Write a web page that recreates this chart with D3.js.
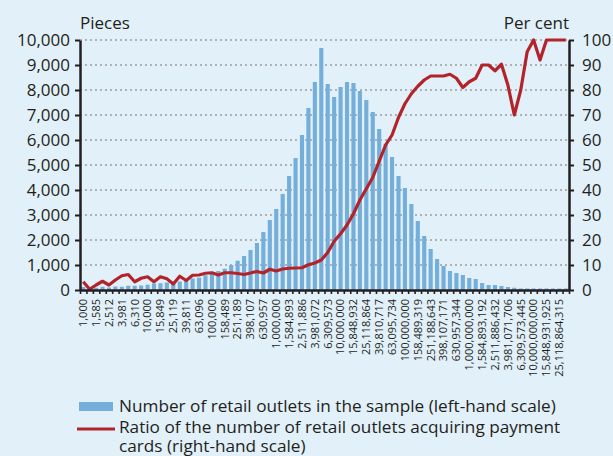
<!DOCTYPE html>
<html><head><meta charset="utf-8">
<script src="https://cdn.jsdelivr.net/npm/d3@7"></script>
<style>
html,body{margin:0;padding:0;background:#e2f0f9;}
text{font-family:"Open Sans",sans-serif;fill:#231f20;}
</style></head>
<body>
<svg id="chart" width="613" height="456"></svg>
<script>
// Size classes of retail outlets (annual turnover, HUF), log-spaced, 10 per decade
const categories = d3.range(76);
const tickLabels = ["1,000","1,585","2,512","3,981","6,310","10,000","15,849","25,119","39,811","63,096",
  "100,000","158,489","251,189","398,107","630,957","1,000,000","1,584,893","2,511,886","3,981,072","6,309,573",
  "10,000,000","15,848,932","25,118,864","39,810,717","63,095,734","100,000,000","158,489,319","251,188,643","398,107,171","630,957,344",
  "1,000,000,000","1,584,893,192","2,511,886,432","3,981,071,706","6,309,573,445","10,000,000,000","15,848,931,925","25,118,864,315"];
// Number of retail outlets in the sample (pieces, left-hand scale)
const outlets = [120,60,90,130,100,140,130,170,170,180,
  210,260,270,300,330,340,380,460,490,590,
  640,760,850,1000,1170,1360,1600,1880,2320,2800,
  3240,3840,4560,5280,6200,7280,8320,9680,8240,7720,
  8120,8320,8280,7960,7600,7120,6440,5850,5320,4560,
  4080,3440,2760,2160,1640,1240,960,760,680,600,
  480,440,280,200,200,160,120,90,60,60,
  60,60,60,60,60,60];
// Ratio of outlets acquiring payment cards (per cent, right-hand scale)
const ratio = [3.3,0.3,2,3.5,2,4,5.7,6.2,3.3,4.7,
  5.3,3.3,5.3,4.5,2.4,5.5,3.8,5.9,6,6.7,
  6.9,6,6.9,6.9,6.6,6.2,6.8,7.4,6.8,8.3,
  7.6,8.4,8.7,8.8,8.9,10.1,10.8,12,15,19.5,
  22.5,26,30.5,36,40.5,45,51.5,58,62,69,
  74.5,78.5,81.5,84,85.6,85.6,85.6,86.3,84.7,81,
  83.3,84.7,90,90,87.7,90.3,82,70,80,95.3,
  100,92,100,100,100,100];
const leftTicks = d3.range(0, 10001, 1000);
const rightTicks = d3.range(0, 101, 10);

const barColor = "#74aedb", lineColor = "#b2242a", axisColor = "#231f20";
const L = 80, R = 569, T = 40, B = 290;

const svg = d3.select("#chart");
svg.append("rect").attr("width",613).attr("height",456).attr("fill","#e2f0f9");

const x = d3.scaleBand().domain(categories).range([L, R]).paddingInner(0.36).paddingOuter(0.18);
const xEdge = d3.scaleLinear().domain([0, categories.length]).range([L, R]);
const yL = d3.scaleLinear().domain([0, 10000]).range([B, T]);
const yR = d3.scaleLinear().domain([0, 100]).range([B, T]);

// gridlines
svg.append("g").selectAll("line").data(leftTicks.slice(1)).join("line")
  .attr("x1", L).attr("x2", R).attr("y1", d => yL(d)).attr("y2", d => yL(d))
  .attr("stroke", "#9d9d9d").attr("stroke-width", 1.6).attr("stroke-dasharray", "2,3");

// bars
svg.append("g").selectAll("rect").data(outlets).join("rect")
  .attr("x", (d, i) => x(categories[i])).attr("width", x.bandwidth())
  .attr("y", d => yL(d)).attr("height", d => B - yL(d)).attr("fill", barColor);

// line
const line = d3.line().x((d, i) => x(categories[i]) + x.bandwidth() / 2).y(d => yR(d));
svg.append("path").datum(ratio).attr("d", line).attr("fill", "none")
  .attr("stroke", lineColor).attr("stroke-width", 3.2).attr("stroke-linejoin", "round");

// axes
function styleAxis(g, fs) {
  g.selectAll("path").attr("stroke", axisColor).attr("stroke-width", 2.5);
  g.selectAll("line").attr("stroke", axisColor).attr("stroke-width", 2);
  g.selectAll("text").style("font-family", '"Open Sans",sans-serif').style("font-size", fs).attr("fill", axisColor);
}
const gl = svg.append("g").attr("transform", `translate(${L},0)`)
  .call(d3.axisLeft(yL).tickValues(leftTicks).tickFormat(d3.format(",")).tickSize(5).tickSizeOuter(0).tickPadding(5));
styleAxis(gl, "17px");
const gr = svg.append("g").attr("transform", `translate(${R},0)`)
  .call(d3.axisRight(yR).tickValues(rightTicks).tickSize(5).tickSizeOuter(0).tickPadding(8));
styleAxis(gr, "17px");

const gb = svg.append("g").attr("transform", `translate(0,${B})`)
  .call(d3.axisBottom(xEdge).tickValues(d3.range(categories.length + 1)).tickFormat("").tickSize(4).tickSizeOuter(0));
styleAxis(gb, "11px");
gb.selectAll(".tick line").attr("stroke-width", 1.6);

const evenCats = categories.filter(i => i % 2 === 0);
const gbl = svg.append("g").attr("transform", `translate(0,${B})`)
  .call(d3.axisBottom(x).tickValues(evenCats).tickFormat((d) => tickLabels[d / 2]).tickSize(0).tickSizeOuter(0));
gbl.select(".domain").remove();
gbl.selectAll("text")
  .style("font-family", '"Open Sans",sans-serif').style("font-size", "11px").attr("fill", axisColor)
  .attr("transform", "rotate(-90)").attr("text-anchor", "end")
  .attr("x", -9).attr("y", 0).attr("dy", "0.35em");

// axis titles
svg.append("text").attr("x", L).attr("y", 29).style("font-size", "17px").text("Pieces");
svg.append("text").attr("x", R).attr("y", 29).attr("text-anchor", "end").style("font-size", "17px").text("Per cent");

// legend
const lg = svg.append("g");
lg.append("rect").attr("x", 79).attr("y", 402).attr("width", 34).attr("height", 9).attr("fill", barColor);
lg.append("line").attr("x1", 77).attr("x2", 115).attr("y1", 429).attr("y2", 429)
  .attr("stroke", lineColor).attr("stroke-width", 3.2);
const legendLines = ["Number of retail outlets in the sample (left-hand scale)",
  "Ratio of the number of retail outlets acquiring payment",
  "cards (right-hand scale)"];
lg.selectAll("text").data(legendLines).join("text")
  .attr("x", 119).attr("y", (d, i) => [412, 433, 452][i]).style("font-size", "17.2px").text(d => d);
</script>
</body></html>
